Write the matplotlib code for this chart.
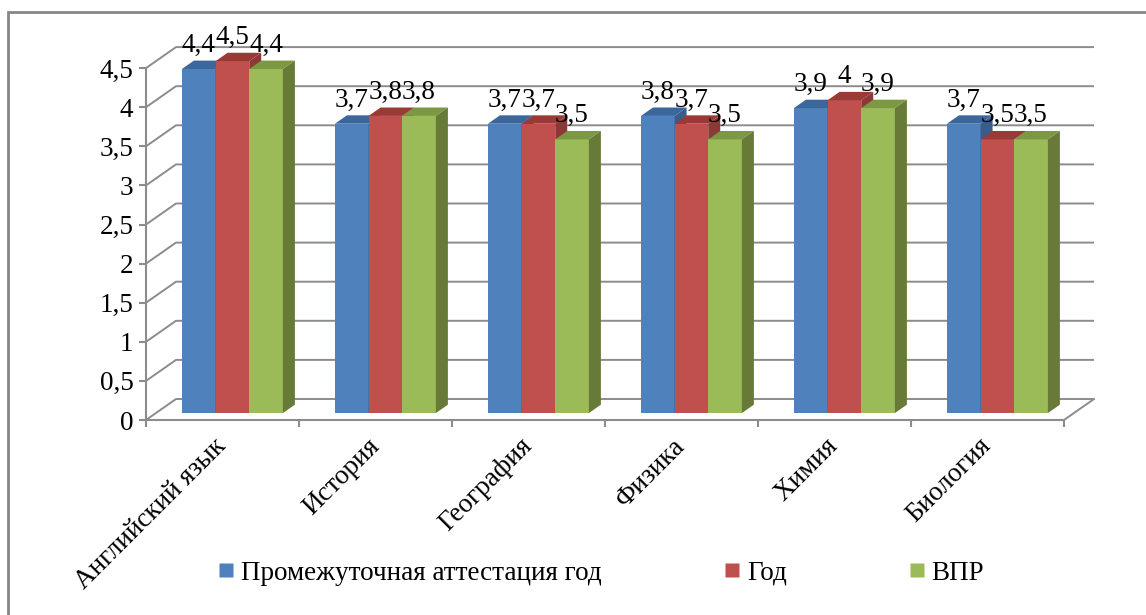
import matplotlib
matplotlib.use('Agg')
import matplotlib.pyplot as plt
from matplotlib.patches import Polygon, Rectangle
from matplotlib.lines import Line2D
import numpy as np

# ---- data ----
categories = ["Английский язык", "История", "География", "Физика", "Химия", "Биология"]
series_names = ["Промежуточная аттестация год", "Год", "ВПР"]
s_interim = [4.4, 3.7, 3.7, 3.8, 3.9, 3.7]
s_year = [4.5, 3.8, 3.7, 3.7, 4.0, 3.5]
s_vpr = [4.4, 3.8, 3.5, 3.5, 3.9, 3.5]
yticks = [0, 0.5, 1, 1.5, 2, 2.5, 3, 3.5, 4, 4.5]
ytick_labels = ["0", "0,5", "1", "1,5", "2", "2,5", "3", "3,5", "4", "4,5"]

series = [s_interim, s_year, s_vpr]
face_cols = ['#4F81BD', '#C0504D', '#9BBB59']
top_cols = ['#3C679C', '#9A3A37', '#7C9843']
side_cols = ['#385D8A', '#8C3836', '#677A38']

def fmt(v):
    s = ('%g' % v).replace('.', ',')
    return s

plt.rcParams['font.family'] = ['Liberation Serif', 'DejaVu Serif']
FS = 19.5

W, H = 1146, 615
fig = plt.figure(figsize=(W / 100, H / 100), dpi=100)

x0px, y0px = 146, 420
catpx, unitpx = 153, 78.2
ax = fig.add_axes([x0px / W, 1 - y0px / H, 6 * catpx / W, 4.5 * unitpx / H])
ax.set_xlim(0, 6)
ax.set_ylim(0, 4.5)
ax.patch.set_visible(False)
grid_c = '#8C8C8C'
for k, s in ax.spines.items():
    s.set_visible(k in ('left', 'bottom'))
    s.set_color(grid_c)
    s.set_linewidth(1.5)

# depth vector (full floor depth) in data units
DX = 30 / catpx
DY = 21 / unitpx

# back wall + side wall gridlines
for v in yticks:
    ax.plot([0, DX, 6 + DX], [v + 0, v + DY, v + DY], color=grid_c, lw=1.4,
            clip_on=False, zorder=1, solid_capstyle='butt')
ax.plot([6, 6 + DX], [0, DY], color=grid_c, lw=1.4, clip_on=False, zorder=1)

# axes ticks
ax.set_yticks(yticks)
ax.set_yticklabels(ytick_labels)
ax.tick_params(axis='y', direction='out', length=5, width=1.5, color=grid_c,
               labelsize=FS, pad=4)
ax.set_xticks(range(7))
ax.set_xticklabels([])
ax.set_xticks(np.arange(6) + 0.5, minor=True)
ax.set_xticklabels(categories, minor=True)
ax.tick_params(axis='x', which='major', direction='out', length=5, width=1.5,
               color=grid_c)
ax.tick_params(axis='x', which='minor', length=0, labelsize=FS, pad=16)
for t in ax.get_xticklabels(minor=True):
    t.set_rotation(45)
    t.set_ha('right')
    t.set_va('center')
    t.set_rotation_mode('anchor')

# 3D bars
f0, fd = 0.33, 0.40
bw = 0.22
z = 3
for i in range(len(categories)):
    for j, vals in enumerate(series):
        v = vals[i]
        xl = i + 0.5 - 1.5 * bw + j * bw + f0 * DX
        yb = f0 * DY
        xr = xl + bw
        yt = v + yb
        ddx, ddy = fd * DX, fd * DY
        ax.add_patch(Rectangle((xl, yb), bw, v, facecolor=face_cols[j],
                               edgecolor='none', clip_on=False, zorder=z))
        ax.add_patch(Polygon([(xl, yt), (xr, yt), (xr + ddx, yt + ddy), (xl + ddx, yt + ddy)],
                             closed=True, facecolor=top_cols[j], edgecolor='none',
                             clip_on=False, zorder=z))
        ax.add_patch(Polygon([(xr, yb), (xr + ddx, yb + ddy), (xr + ddx, yt + ddy), (xr, yt)],
                             closed=True, facecolor=side_cols[j], edgecolor='none',
                             clip_on=False, zorder=z))
        z += 1

# data labels
for i in range(len(categories)):
    for j, vals in enumerate(series):
        v = vals[i]
        xl = i + 0.5 - 1.5 * bw + j * bw + f0 * DX
        yt = v + f0 * DY + fd * DY
        ax.annotate(fmt(v), (xl + bw / 2, yt), xytext=(0, 2), textcoords='offset points',
                    ha='center', va='bottom', fontsize=FS, zorder=100,
                    annotation_clip=False)

# legend
handles = [Line2D([], [], marker='s', linestyle='none', markersize=9.4,
                  markerfacecolor=c, markeredgecolor='none') for c in face_cols]
fig.legend(handles, series_names, loc='center', ncol=3,
           bbox_to_anchor=(602 / W, 1 - 573 / H), frameon=False, fontsize=FS,
           handlelength=0.5, handletextpad=0.3, columnspacing=4.55, borderpad=0)

# chart frame (only left and top visible in crop)
fig.add_artist(Rectangle((8 / W, -0.1), 1.2, 1 - 12 / H + 0.1, transform=fig.transFigure,
                         fill=False, edgecolor='#868686', lw=2.0))

fig.savefig('out.png', dpi=100)
